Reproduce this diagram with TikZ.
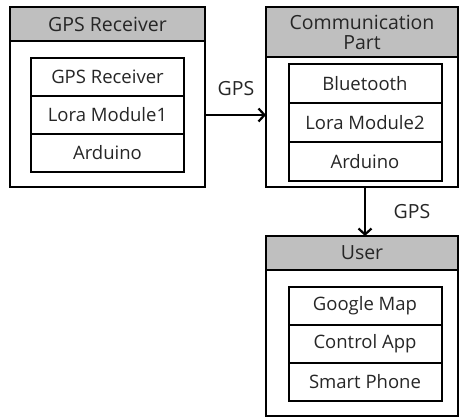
\documentclass[tikz,border=0pt]{standalone}
\usepackage{fontspec}
\setmainfont{Open Sans}
\usetikzlibrary{positioning,arrows.meta}
\tikzset{outerbox/.style={draw,line width=2pt,inner sep=0pt,outer sep=0pt,anchor=north west},
headbox/.style={draw,fill=black!25,line width=2pt,inner sep=0pt,outer sep=0pt,anchor=north west,align=center,text=black!85,font=\fontsize{19.5}{21}\selectfont},
rowbox/.style={draw,line width=2pt,inner sep=0pt,outer sep=0pt,minimum width=153pt,text=black!85,font=\fontsize{18.5}{20}\selectfont}}

\begin{document}
\begin{tikzpicture}[x=1pt,y=-1pt]
\useasboundingbox (0,0) rectangle (460,418);

% Outer boxes
\node[outerbox,minimum width=195pt,minimum height=180pt] (recv) at (10,7) {};
\node[outerbox,minimum width=192pt,minimum height=180pt] (comm) at (266,7) {};
\node[outerbox,minimum width=192pt,minimum height=180pt] (user) at (266,236) {};

% Headers
\node[headbox,minimum width=195pt,minimum height=34pt] (recvHead) at (recv.north west) {GPS Receiver};
\node[headbox,minimum width=192pt,minimum height=50pt] (commHead) at (comm.north west) {Communication\\[-1pt]Part};
\node[headbox,minimum width=192pt,minimum height=34pt] (userHead) at (user.north west) {User};

% Inner parts
\node[rowbox,minimum height=38pt,anchor=north] (recv1) at (107.5,58) {GPS Receiver};
\node[rowbox,minimum height=38pt,below=0pt of recv1] (recv2) {Lora Module1};
\node[rowbox,minimum height=38pt,below=0pt of recv2] (recv3) {Arduino};

\node[rowbox,minimum height=39pt,anchor=north] (comm1) at (365,64) {Bluetooth};
\node[rowbox,minimum height=39pt,below=0pt of comm1] (comm2) {Lora Module2};
\node[rowbox,minimum height=39pt,below=0pt of comm2] (comm3) {Arduino};

\node[rowbox,minimum height=38pt,anchor=north] (user1) at (365,287) {Google Map};
\node[rowbox,minimum height=38pt,below=0pt of user1] (user2) {Control App};
\node[rowbox,minimum height=38pt,below=0pt of user2] (user3) {Smart Phone};

% Data flow
\draw[line width=2.2pt,-{Straight Barb[length=6pt,width=13pt]}] (recv.east |- recv2) -- (comm.west |- recv2);
\node[text=black!85,font=\fontsize{19.5}{21}\selectfont] (gps1) at (236,89) {GPS};
\draw[line width=2.2pt,-{Straight Barb[length=6pt,width=13pt]}] (comm3.south |- comm.south) -- (user.north -| comm3.south);
\node[text=black!85,font=\fontsize{19.5}{21}\selectfont] (gps2) at (412,212) {GPS};

\end{tikzpicture}
\end{document}
